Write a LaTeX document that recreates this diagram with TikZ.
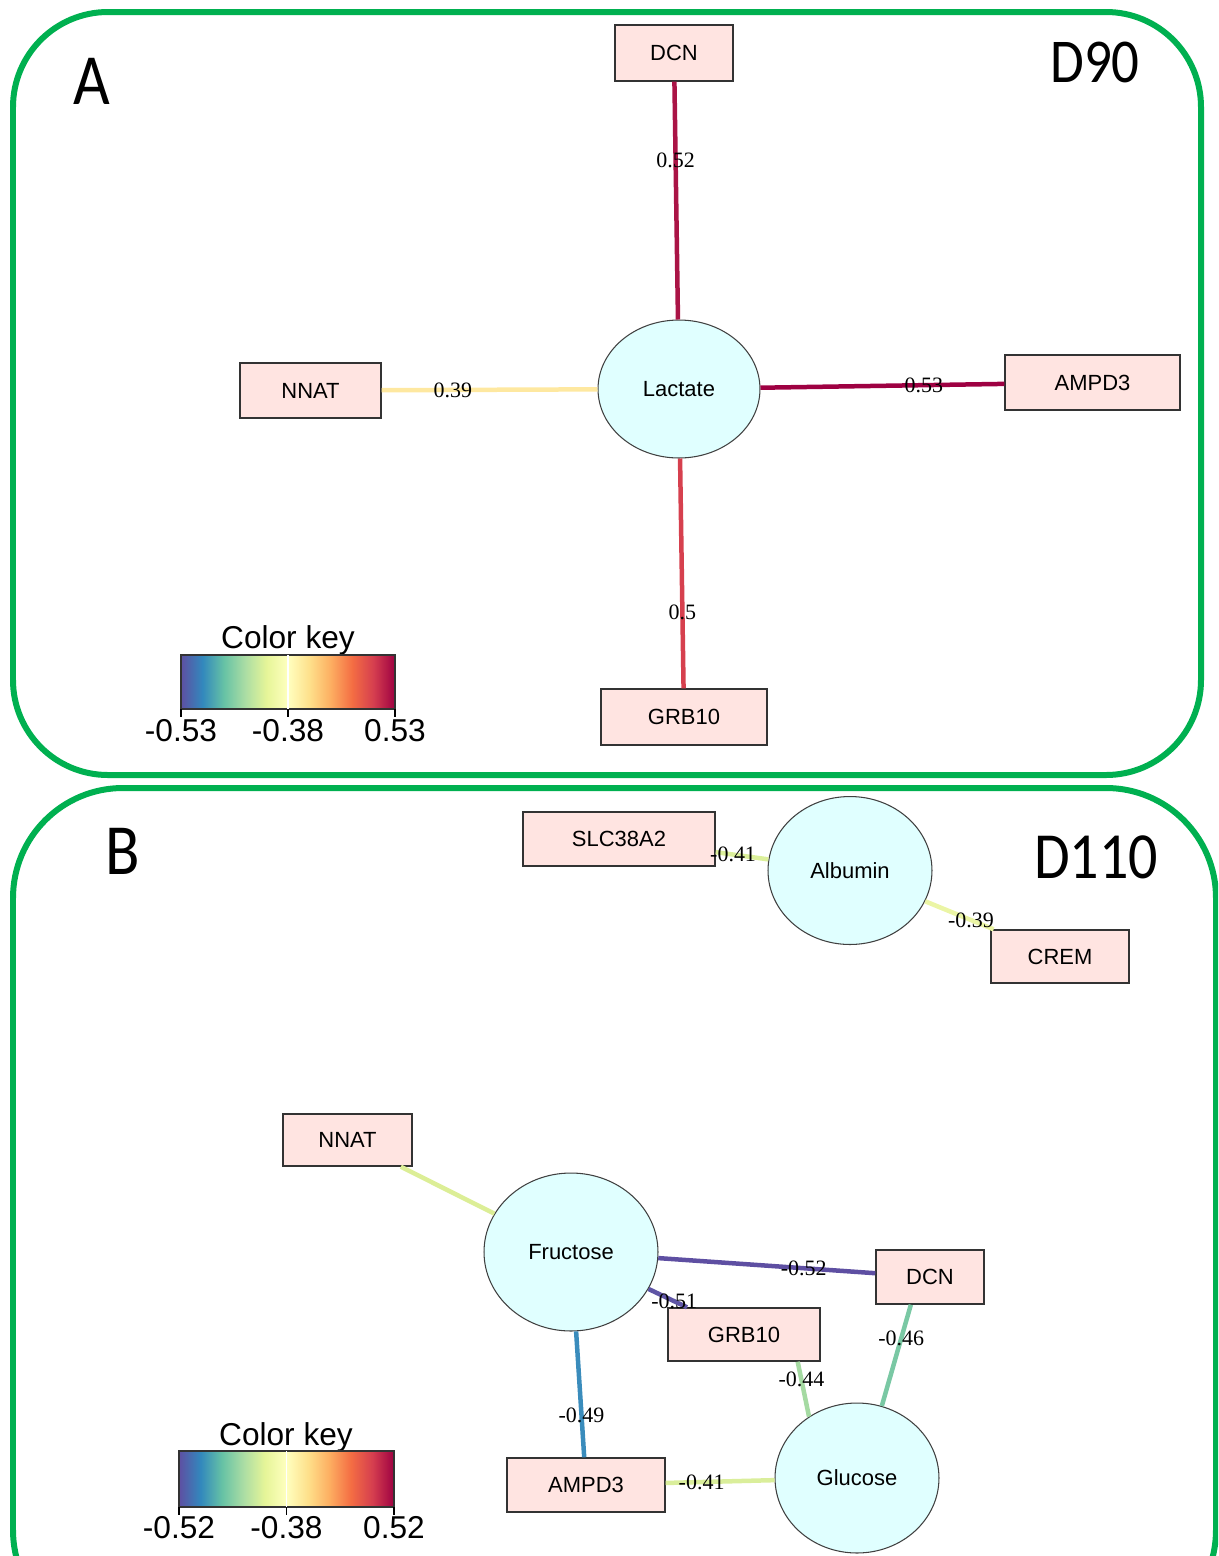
\documentclass[tikz,border=0pt]{standalone}
\usepackage{fontspec}
\setmainfont{Liberation Serif}
\setsansfont{Liberation Sans}
\newfontfamily\panelfont[FakeStretch=0.88]{Carlito}
\usepackage{xcolor}
\usepackage{tikz}
\usetikzlibrary{shapes.geometric, calc}

\definecolor{framegreen}{RGB}{0,176,80}
\definecolor{genefill}{RGB}{255,228,225}
\definecolor{metabfill}{RGB}{224,255,255}
% spectral palette of the colour key
\definecolor{sp1}{RGB}{94,79,162}
\definecolor{sp2}{RGB}{50,136,189}
\definecolor{sp3}{RGB}{102,194,165}
\definecolor{sp4}{RGB}{171,221,164}
\definecolor{sp5}{RGB}{230,245,152}
\definecolor{sp6}{RGB}{255,255,191}
\definecolor{sp7}{RGB}{254,224,139}
\definecolor{sp8}{RGB}{253,174,97}
\definecolor{sp9}{RGB}{244,109,67}
\definecolor{sp10}{RGB}{213,62,79}
\definecolor{sp11}{RGB}{158,1,66}
% edge colours
\definecolor{cDcnA}{RGB}{170,20,70}
\definecolor{cNnatA}{RGB}{254,232,160}
\definecolor{cAmpdA}{RGB}{158,1,66}
\definecolor{cGrbA}{RGB}{214,64,78}
\definecolor{cSlcB}{RGB}{220,240,155}
\definecolor{cCremB}{RGB}{235,245,165}
\definecolor{cNnatB}{RGB}{220,238,150}
\definecolor{cDcnB}{RGB}{94,79,162}
\definecolor{cGrbB}{RGB}{95,85,165}
\definecolor{cAmpdB}{RGB}{58,140,188}
\definecolor{cGluDcn}{RGB}{122,200,164}
\definecolor{cGluGrb}{RGB}{165,218,162}
\definecolor{cGluAmpd}{RGB}{218,238,155}

\pgfdeclarehorizontalshading{spectral}{100bp}{color(0bp)=(sp1); color(25bp)=(sp1);
  color(30bp)=(sp2); color(35bp)=(sp3); color(40bp)=(sp4); color(45bp)=(sp5);
  color(50bp)=(sp6); color(55bp)=(sp7); color(60bp)=(sp8); color(65bp)=(sp9);
  color(70bp)=(sp10); color(75bp)=(sp11); color(100bp)=(sp11)}

\begin{document}
\begin{tikzpicture}[x=0.02cm, y=-0.02cm,
    gene/.style={rectangle, draw=black!80, line width=0.8pt, fill=genefill, inner sep=0pt,
      font=\sffamily\fontsize{12.5}{14}\selectfont},
    metab/.style={ellipse, draw=black!75, line width=0.6pt, fill=metabfill, inner sep=0pt,
      font=\sffamily\fontsize{12.5}{14}\selectfont},
    corr/.style={line width=0.09cm},
    elabel/.style={pos=.67, inner sep=0pt, text=black, font=\fontsize{12.5}{14}\selectfont},
    keytext/.style={inner sep=0pt, font=\sffamily\fontsize{18}{20}\selectfont},
    frame/.style={draw=framegreen, line width=0.12cm, rounded corners=1.9cm},
    panel/.style={inner sep=0pt, font=\panelfont\fontsize{41}{44}\selectfont}]
    \useasboundingbox (0,0) rectangle (1218,1556);

    % panel A
    \draw[frame] (13,12) rectangle (1201,775);
    \node[panel] (letA) at (92,81) {A};
    \node[panel, font=\panelfont\fontsize{35.5}{40}\selectfont] (dayA) at (1095,62) {D90};

    \node[metab, minimum width=3.24cm, minimum height=2.76cm] (lacA) at (679,389) {Lactate};
    \node[gene, minimum width=2.36cm, minimum height=1.12cm] (dcnA) at (674,53) {DCN};
    \node[gene, minimum width=2.82cm, minimum height=1.10cm] (nnatA) at (310.5,390.5) {NNAT};
    \node[gene, minimum width=3.50cm, minimum height=1.10cm] (ampdA) at (1092.5,382.5) {AMPD3};
    \node[gene, minimum width=3.32cm, minimum height=1.12cm] (grbA) at (684,717) {GRB10};

    \draw[corr, cDcnA] (lacA) -- node[elabel] {0.52} (dcnA);
    \draw[corr, cNnatA] (lacA) -- node[elabel] {0.39} (nnatA);
    \draw[corr, cAmpdA] (lacA) -- node[elabel] {0.53} (ampdA);
    \draw[corr, cGrbA] (lacA) -- node[elabel] {0.5} (grbA);

    % colour key A
    \node[keytext] (keyA) at (288,640) {Color key};
    \shade[shading=spectral, draw=black!80, line width=0.6pt] (181,655) rectangle (395,709);
    \draw[white, line width=0.8pt] (288,655) -- (288,709);
    \foreach \x in {181,288,395}
        \draw[line width=0.9pt] (\x,709) -- (\x,717);
    \node[keytext] (lowA) at (181,731) {-0.53};
    \node[keytext] (midA) at (288,731) {-0.38};
    \node[keytext] (highA) at (395,731) {0.53};

    % panel B
    \begin{scope}
        \clip (0,0) rectangle (1218,1556);
        \draw[frame, rounded corners=2.2cm] (13,788) rectangle (1216,1640);
    \end{scope}
    \node[panel] (letB) at (123,851) {B};
    \node[panel, font=\panelfont\fontsize{37.5}{42}\selectfont] (dayB) at (1096,857) {D110};

    \node[metab, minimum width=3.28cm, minimum height=2.96cm] (albB) at (850,870.5) {Albumin};
    \node[metab, minimum width=3.48cm, minimum height=3.16cm] (fruB) at (571,1252) {Fructose};
    \node[metab, minimum width=3.28cm, minimum height=3.00cm] (gluB) at (857,1478) {Glucose};
    \node[gene, minimum width=3.84cm, minimum height=1.08cm] (slcB) at (619,839) {SLC38A2};
    \node[gene, minimum width=2.76cm, minimum height=1.06cm] (cremB) at (1060,956.5) {CREM};
    \node[gene, minimum width=2.58cm, minimum height=1.04cm] (nnatB) at (347.5,1140) {NNAT};
    \node[gene, minimum width=2.16cm, minimum height=1.08cm] (dcnB) at (930,1277) {DCN};
    \node[gene, minimum width=3.04cm, minimum height=1.06cm] (grbB) at (744,1334.5) {GRB10};
    \node[gene, minimum width=3.16cm, minimum height=1.08cm] (ampdB) at (586,1485) {AMPD3};

    \draw[corr, cSlcB] (albB) -- node[elabel] {-0.41} (slcB);
    \draw[corr, cCremB] (albB) -- node[elabel] {-0.39} (cremB);
    \draw[corr, cNnatB] (fruB) -- (nnatB);
    \draw[corr, cDcnB] (fruB) -- node[elabel] {-0.52} (dcnB);
    \draw[corr, cGrbB] (fruB) -- node[elabel] {-0.51} (grbB);
    \draw[corr, cAmpdB] (fruB) -- node[elabel] {-0.49} (ampdB);
    \draw[corr, cGluDcn] (gluB.71) -- node[elabel] {-0.46} ($(dcnB.south)!.35!(dcnB.south west)$);
    \draw[corr, cGluGrb] (gluB.128) -- node[elabel] {-0.44} ($(grbB.south)!.7!(grbB.south east)$);
    \draw[corr, cGluAmpd] (gluB) -- node[elabel] {-0.41} (ampdB);

    % colour key B
    \node[keytext] (keyB) at (286,1437) {Color key};
    \shade[shading=spectral, draw=black!80, line width=0.6pt] (179,1451) rectangle (394,1507);
    \draw[white, line width=0.8pt] (286.5,1451) -- (286.5,1507);
    \foreach \x in {179,286.5,394}
        \draw[line width=0.9pt] (\x,1507) -- (\x,1515);
    \node[keytext] (lowB) at (179,1528) {-0.52};
    \node[keytext] (midB) at (286.5,1528) {-0.38};
    \node[keytext] (highB) at (394,1528) {0.52};
\end{tikzpicture}
\end{document}
